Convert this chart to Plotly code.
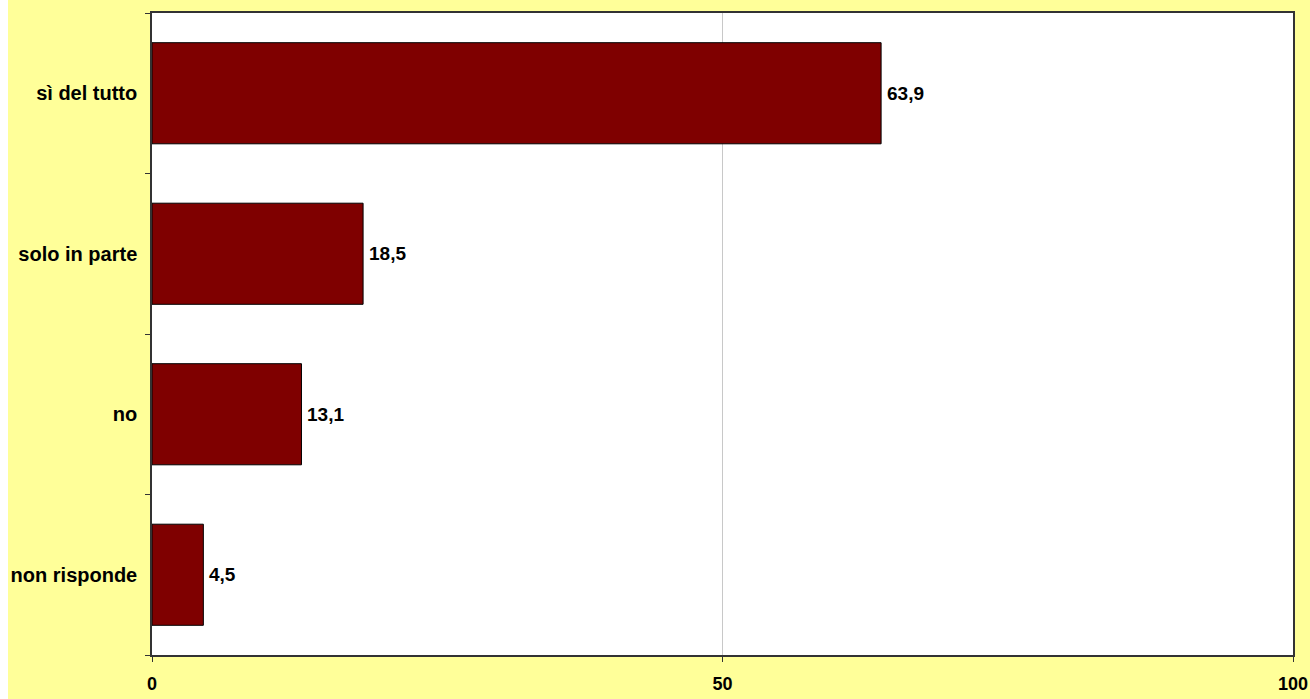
import plotly.graph_objects as go

# Survey answers and percentage shares
categories = ["sì del tutto", "solo in parte", "no", "non risponde"]
values = [63.9, 18.5, 13.1, 4.5]
value_labels = ["63,9", "18,5", "13,1", "4,5"]
x_ticks = [0, 50, 100]

W, H = 1310, 699
ML, MR, MT, MB = 152, 17, 13, 44
plot_w = W - ML - MR

BAR = "#7F0000"
BG = "#FFFF99"
FONT = "Liberation Sans, Arial, sans-serif"

fig = go.Figure(
    go.Bar(
        y=categories,
        x=values,
        orientation="h",
        marker=dict(color=BAR, line=dict(color="black", width=1)),
        width=0.63,
        hoverinfo="skip",
    )
)

# value labels just to the right of each bar
for cat, val, lab in zip(categories, values, value_labels):
    fig.add_annotation(
        x=val, y=cat, text=lab, showarrow=False,
        xanchor="left", yanchor="middle", xshift=4,
        font=dict(family=FONT, size=19, color="black", weight="bold"),
    )

fig.update_layout(
    width=W,
    height=H,
    margin=dict(l=ML, r=MR, t=MT, b=MB, autoexpand=False),
    paper_bgcolor=BG,
    plot_bgcolor="white",
    showlegend=False,
    shapes=[
        # thin white strip down the left edge of the page
        dict(
            type="rect", xref="paper", yref="paper",
            x0=(0 - ML) / plot_w, x1=(8 - ML) / plot_w,
            y0=-MB / (H - MT - MB) - 0.1, y1=1 + MT / (H - MT - MB) + 0.1,
            fillcolor="white", line=dict(width=0), layer="below",
        ),
    ],
)

fig.update_xaxes(
    range=[0, 100],
    tickvals=x_ticks,
    ticktext=[str(t) for t in x_ticks],
    ticks="outside",
    ticklen=5,
    tickcolor="#333333",
    tickfont=dict(family=FONT, size=18, color="black", weight="bold"),
    ticklabelstandoff=7,
    automargin=False,
    showgrid=True,
    gridcolor="#C8C8C8",
    gridwidth=1,
    showline=True,
    linecolor="#333333",
    linewidth=1.5,
    mirror=True,
    zeroline=False,
    fixedrange=True,
)

fig.update_yaxes(
    categoryorder="array",
    categoryarray=categories[::-1],
    ticks="outside",
    tickson="boundaries",
    ticklen=5,
    tickcolor="#333333",
    tickfont=dict(family=FONT, size=20, color="black", weight="bold"),
    ticklabelstandoff=9,
    automargin=False,
    showgrid=False,
    showline=True,
    linecolor="#333333",
    linewidth=1.5,
    mirror=True,
    fixedrange=True,
)

fig.write_html("out.html")
